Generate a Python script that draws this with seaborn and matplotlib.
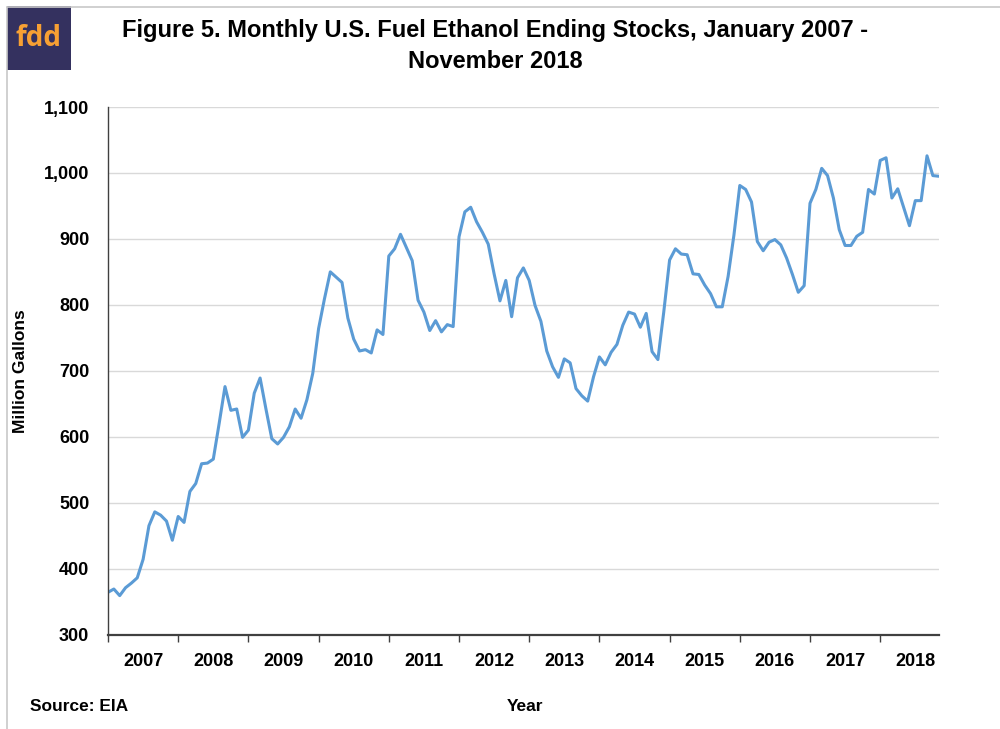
import numpy as np
import pandas as pd
import matplotlib
matplotlib.use("Agg")
from matplotlib import pyplot as plt
from matplotlib.patches import Rectangle
import seaborn as sns

# monthly ending stocks, million gallons, Jan 2007 - Nov 2018
stocks_2007 = [364, 369, 359, 371, 378, 386, 414, 465, 486, 481, 472, 443]
stocks_2008 = [479, 470, 517, 529, 559, 560, 566, 620, 676, 640, 642, 599]
stocks_2009 = [610, 666, 689, 642, 597, 589, 599, 615, 642, 628, 656, 696]
stocks_2010 = [764, 809, 850, 842, 834, 780, 748, 730, 732, 727, 762, 755]
stocks_2011 = [874, 885, 907, 887, 867, 807, 789, 761, 776, 759, 770, 767]
stocks_2012 = [903, 941, 948, 926, 910, 892, 847, 806, 837, 782, 841, 856]
stocks_2013 = [837, 799, 775, 730, 706, 690, 718, 712, 673, 662, 654, 691]
stocks_2014 = [721, 709, 728, 740, 769, 789, 786, 766, 787, 729, 717, 789]
stocks_2015 = [868, 885, 877, 876, 847, 846, 830, 817, 797, 797, 843, 906]
stocks_2016 = [981, 975, 956, 896, 882, 895, 899, 891, 871, 846, 819, 829]
stocks_2017 = [954, 975, 1007, 996, 962, 914, 890, 890, 904, 910, 975, 968]
stocks_2018 = [1019, 1023, 962, 976, 948, 920, 958, 958, 1026, 996, 995]

years = [str(y) for y in range(2007, 2019)]
y_ticks = [300, 400, 500, 600, 700, 800, 900, 1000, 1100]

stocks = (stocks_2007 + stocks_2008 + stocks_2009 + stocks_2010 + stocks_2011 + stocks_2012
          + stocks_2013 + stocks_2014 + stocks_2015 + stocks_2016 + stocks_2017 + stocks_2018)
df = pd.DataFrame({"month": np.arange(len(stocks)), "stocks": stocks})

sns.set_style("white")
plt.rcParams["font.family"] = ["Liberation Sans", "DejaVu Sans"]
plt.rcParams["text.color"] = "black"
plt.rcParams["axes.labelcolor"] = "black"
plt.rcParams["xtick.labelcolor"] = "black"
plt.rcParams["ytick.labelcolor"] = "black"

fig = plt.figure(figsize=(10, 7.29), dpi=100)
ax = fig.add_axes([0.108, 0.1296, 0.8307, 0.7236])

sns.lineplot(data=df, x="month", y="stocks", ax=ax, color="#5B9BD5", linewidth=2.2)

ax.set_xlim(0, len(stocks) - 1)
ax.set_ylim(300, 1100)
ax.set_yticks(y_ticks)
ax.set_yticklabels([f"{v:,}" for v in y_ticks], fontsize=13, fontweight="bold")
ax.grid(axis="y", color="#D9D9D9", linewidth=1)
ax.set_axisbelow(True)

# year boundaries as ticks, labels centred within each year
ax.set_xticks(np.arange(0, len(stocks), 12))
ax.set_xticklabels([])
ax.set_xticks(np.arange(6, len(stocks) + 6, 12)[:len(years)], minor=True)
ax.set_xticklabels(years, minor=True, fontsize=13, fontweight="bold")
ax.tick_params(axis="x", which="major", direction="out", length=5, width=1, color="#404040", bottom=True)
ax.tick_params(axis="x", which="minor", length=0, pad=13)
ax.tick_params(axis="y", length=0, pad=13.5)

for side in ["top", "right"]:
    ax.spines[side].set_visible(False)
ax.spines["left"].set_color("#404040")
ax.spines["left"].set_linewidth(1)
ax.spines["bottom"].set_color("#404040")
ax.spines["bottom"].set_linewidth(1.6)

ax.set_xlabel("")
ax.set_ylabel("Million Gallons", fontsize=12.5, fontweight="bold", va="center")
ax.yaxis.set_label_coords(-0.105, 0.5)

fig.text(0.495, 0.937, "Figure 5. Monthly U.S. Fuel Ethanol Ending Stocks, January 2007 -\nNovember 2018",
         ha="center", va="center", fontsize=17, fontweight="bold", linespacing=1.45)
fig.text(0.525, 0.031, "Year", ha="center", va="center", fontsize=12.5, fontweight="bold")
fig.text(0.03, 0.031, "Source: EIA", ha="left", va="center", fontsize=12.5, fontweight="bold")

# frame and logo
fig.add_artist(plt.Line2D([0.007, 1], [1 - 6.5 / 729, 1 - 6.5 / 729], color="#C8C8C8", linewidth=1.2))
fig.add_artist(plt.Line2D([0.007, 0.007], [0, 1 - 6.5 / 729], color="#C8C8C8", linewidth=1.2))
fig.add_artist(Rectangle((0.007, 1 - 70 / 729), 0.064, 63.5 / 729, facecolor="#34315F", edgecolor="none"))
fig.text(0.039, 1 - 39 / 729, "fdd", ha="center", va="center", fontsize=20, fontweight="bold",
         color="#F7A033", family=["Open Sans", "DejaVu Sans"])

fig.savefig("out.png", dpi=100)
